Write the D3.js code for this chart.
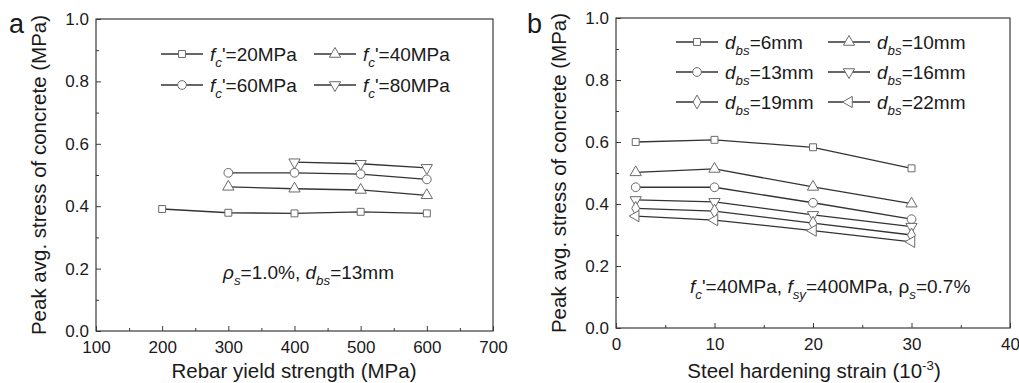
<!doctype html>
<html lang="en">
  <head>
    <meta charset="UTF-8" />
    <title>Peak average stress of concrete</title>
    <script src="https://d3js.org/d3.v7.min.js"></script>
    <style>
      body {
        margin: 0;
        background: #fff;
        font-family: Arial, 'Liberation Sans', sans-serif;
      }
      svg text {
        fill: #1a1a1a;
      }
      .tick text {
        font-size: 17px;
      }
      .frame {
        fill: none;
        stroke: #3a3a3a;
        stroke-width: 1.2;
      }
    </style>
  </head>
  <body>
    <svg id="chart" width="1019" height="383"></svg>

    <script>
      // Panel a: rebar yield strength (MPa)
      const yieldX = [200, 300, 400, 500, 600]
      const fc20 = [0.391, 0.379, 0.377, 0.382, 0.377]
      const fc40 = [null, 0.462, 0.456, 0.452, 0.435]
      const fc60 = [null, 0.507, 0.507, 0.503, 0.486]
      const fc80 = [null, null, 0.541, 0.536, 0.523]
      const fcNames = ['20', '40', '60', '80']

      // Panel b: steel hardening strain (10^-3)
      const strainX = [2, 10, 20, 30]
      const d6 = [0.6, 0.607, 0.583, 0.515]
      const d10 = [0.502, 0.513, 0.455, 0.401]
      const d13 = [0.454, 0.454, 0.404, 0.351]
      const d16 = [0.413, 0.407, 0.365, 0.327]
      const d19 = [0.386, 0.377, 0.338, 0.3]
      const d22 = [0.361, 0.348, 0.314, 0.278]
      const dbsNames = ['6', '10', '13', '16', '19', '22']

      const yTicks = [0, 0.2, 0.4, 0.6, 0.8, 1.0]
      const xTicksA = [100, 200, 300, 400, 500, 600, 700]
      const xTicksB = [0, 10, 20, 30, 40]

      const markerTypes = ['square', 'triangle', 'circle', 'down', 'diamond', 'left']

      const svg = d3.select('#chart')

      // open grey marker, drawn centred in the group it is appended to
      function marker(sel, type) {
        const shapes = {
          square: [d3.symbolSquare, 48, 0],
          triangle: [d3.symbolTriangle, 55, 0],
          circle: [d3.symbolCircle, 60, 0],
          down: [d3.symbolTriangle, 55, 180],
          diamond: [d3.symbolDiamond, 55, 0],
          left: [d3.symbolTriangle, 55, -90],
        }
        const [sym, size, rot] = shapes[type]
        sel
          .append('path')
          .attr('d', d3.symbol(sym, size))
          .attr('transform', `rotate(${rot})`)
          .attr('fill', '#fff')
          .attr('stroke', '#6a6a6a')
          .attr('stroke-width', 1)
      }

      // sub/superscript label helper: parts = [[text, kind]]
      function richText(g, x, y, parts, size) {
        const t = g.append('text').attr('x', x).attr('y', y).style('font-size', size + 'px')
        parts.forEach(([s, kind]) => {
          const sp = t.append('tspan').text(s)
          if (kind === 'i') sp.style('font-style', 'italic')
          if (kind === 'sub') {
            sp.style('font-style', 'italic').style('font-size', size * 0.7 + 'px').attr('dy', 6)
          }
          if (kind === 'up') sp.attr('dy', -6)
          if (kind === 'sup') sp.style('font-size', size * 0.65 + 'px').attr('dy', -8)
          if (kind === 'down') sp.attr('dy', 8)
        })
        return t
      }

      function drawPanel(cfg) {
        const { left, right, top, bottom } = cfg
        const x = d3.scaleLinear().domain(cfg.xDomain).range([left, right])
        const y = d3.scaleLinear().domain([0, 1]).range([bottom, top])
        const g = svg.append('g')

        // minor ticks
        g.append('g')
          .attr('transform', `translate(${left},0)`)
          .call(d3.axisLeft(y).tickValues(d3.range(0.1, 1, 0.2)).tickSize(-3).tickFormat(''))
        g.append('g')
          .attr('transform', `translate(0,${bottom})`)
          .call(d3.axisBottom(x).tickValues(cfg.xMinor).tickSize(-3).tickFormat(''))

        // major ticks
        g.append('g')
          .attr('transform', `translate(${left},0)`)
          .call(d3.axisLeft(y).tickValues(yTicks).tickSize(-5).tickPadding(7).tickFormat(d3.format('.1f')))
        g.append('g')
          .attr('transform', `translate(0,${bottom})`)
          .call(d3.axisBottom(x).tickValues(cfg.xTicks).tickSize(-5).tickPadding(10))

        g.selectAll('.domain').remove()
        g.selectAll('.tick line').attr('stroke', '#3a3a3a')
        g.selectAll('.tick text').attr('fill', '#1a1a1a')

        g.append('rect')
          .attr('class', 'frame')
          .attr('x', left)
          .attr('y', top)
          .attr('width', right - left)
          .attr('height', bottom - top)

        // series
        const line = d3
          .line()
          .defined((d) => d[1] != null)
          .x((d) => x(d[0]))
          .y((d) => y(d[1]))

        cfg.series.forEach((vals, i) => {
          const pts = cfg.xs.map((xv, j) => [xv, vals[j]])
          g.append('path')
            .datum(pts)
            .attr('d', line)
            .attr('fill', 'none')
            .attr('stroke', '#333')
            .attr('stroke-width', 1.3)
          pts
            .filter((d) => d[1] != null)
            .forEach((d) => {
              const m = g.append('g').attr('transform', `translate(${x(d[0])},${y(d[1])})`)
              marker(m, markerTypes[i])
            })
        })

        // legend
        cfg.names.forEach((name, i) => {
          const col = i % 2
          const row = Math.floor(i / 2)
          const lx = cfg.legendX[col]
          const ly = cfg.legendY + row * cfg.legendDy
          g.append('line')
            .attr('x1', lx)
            .attr('x2', lx + 42)
            .attr('y1', ly)
            .attr('y2', ly)
            .attr('stroke', '#333')
            .attr('stroke-width', 1.3)
          const m = g.append('g').attr('transform', `translate(${lx + 21},${ly})`)
          marker(m, markerTypes[i])
          richText(g, lx + 49, ly + 7, cfg.legendText(name), 19)
        })

        // panel letter
        g.append('text')
          .attr('x', cfg.letterX)
          .attr('y', 33)
          .style('font-size', '27px')
          .text(cfg.letter)

        // y title
        g.append('text')
          .attr('transform', `translate(${cfg.yTitleX},${(top + bottom) / 2}) rotate(-90)`)
          .attr('text-anchor', 'middle')
          .style('font-size', '20.5px')
          .text('Peak avg. stress of concrete (MPa)')

        return g
      }

      const ga = drawPanel({
        left: 96,
        right: 493,
        top: 19,
        bottom: 331,
        xDomain: [100, 700],
        xTicks: xTicksA,
        xMinor: d3.range(150, 700, 100),
        xs: yieldX,
        series: [fc20, fc40, fc60, fc80],
        names: fcNames,
        legendX: [161, 314],
        legendY: 54,
        legendDy: 31,
        legendText: (n) => [
          ['f', 'i'],
          ['c', 'sub'],
          [`'=${n}MPa`, 'up'],
        ],
        letter: 'a',
        letterX: 9,
        yTitleX: 46,
      })

      const gb = drawPanel({
        left: 616,
        right: 1010,
        top: 18,
        bottom: 328,
        xDomain: [0, 40],
        xTicks: xTicksB,
        xMinor: d3.range(5, 40, 10),
        xs: strainX,
        series: [d6, d10, d13, d16, d19, d22],
        names: dbsNames,
        legendX: [676, 828],
        legendY: 42,
        legendDy: 30,
        legendText: (n) => [
          ['d', 'i'],
          ['bs', 'sub'],
          [`=${n}mm`, 'up'],
        ],
        letter: 'b',
        letterX: 527,
        yTitleX: 566,
      })

      // x titles
      ga.append('text')
        .attr('x', 294)
        .attr('y', 378)
        .attr('text-anchor', 'middle')
        .style('font-size', '20.5px')
        .text('Rebar yield strength (MPa)')

      const tb = richText(gb, 0, 378, [
        ['Steel hardening strain (10', ''],
        ['-3', 'sup'],
        [')', 'down'],
      ], 20.5)
      tb.attr('x', 814).attr('text-anchor', 'middle')

      // annotations
      richText(ga, 223, 279, [
        ['ρ', 'i'],
        ['s', 'sub'],
        ['=1.0%, ', 'up'],
        ['d', 'i'],
        ['bs', 'sub'],
        ['=13mm', 'up'],
      ], 19)

      richText(gb, 690, 293, [
        ['f', 'i'],
        ['c', 'sub'],
        ["'=40MPa, ", 'up'],
        ['f', 'i'],
        ['sy', 'sub'],
        ['=400MPa, ρ', 'up'],
        ['s', 'sub'],
        ['=0.7%', 'up'],
      ], 19)
    </script>
  </body>
</html>
